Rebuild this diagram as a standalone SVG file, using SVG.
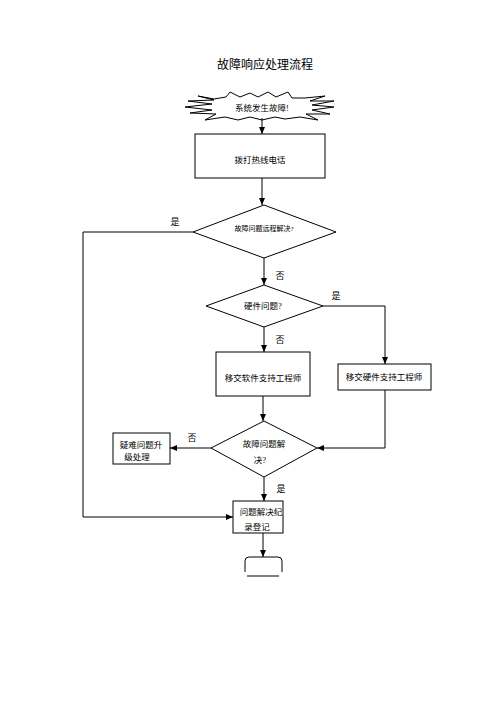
<svg xmlns="http://www.w3.org/2000/svg" width="500" height="707" viewBox="0 0 500 707">
<defs>
<style>
.s{fill:#fff;stroke:#000;stroke-width:1}
.l{fill:none;stroke:#000;stroke-width:1}
text{font-family:"Liberation Serif","Noto Sans CJK SC",serif;fill:#000;text-anchor:middle;dominant-baseline:central}
.t{font-size:8.5px}
.sm{font-size:7px}
.lb{font-size:9px}
</style>
<marker id="a" markerWidth="8" markerHeight="8" refX="7" refY="4" orient="auto" markerUnits="userSpaceOnUse">
<path d="M0,1 L7,4 L0,7 Z" fill="#000"/>
</marker>
</defs>
<rect width="500" height="707" fill="#fff"/>
<text x="265" y="65" style="font-size:12px">故障响应处理流程</text>

<g id="start">
<polygon class="s" points="214,99 226,97 230,92 240,97 250,93 258,97 268,92 276,97 288,92 292,98 305,98 325,96 310,101 334,101 312,105 334,107 312,110 330,114 306,114 318,120 300,117 285,119 275,117 262,120 250,117 238,120 225,117 205,120 216,114 190,113 212,110 185,107 212,104 188,101 214,100 198,96"/>
<text class="t" x="262" y="108">系统发生故障!</text>
</g>

<g id="call">
<rect class="s" x="195" y="134" width="130" height="44"/>
<text class="t" x="260" y="160">拨打热线电话</text>
</g>

<g id="remote">
<polygon class="s" points="264,205 336,232 264,258 193,232"/>
<text class="sm" x="264" y="229">故障问题远程解决?</text>
</g>

<g id="hw">
<polygon class="s" points="264,285 323,306 264,327 206,306"/>
<text class="t" x="263" y="306">硬件问题?</text>
</g>

<g id="sw-box">
<rect class="s" x="216" y="352" width="94" height="44"/>
<text class="t" x="263" y="378">移交软件支持工程师</text>
</g>

<g id="hw-box">
<rect class="s" x="338" y="364" width="93" height="26"/>
<text class="t" x="384" y="377">移交硬件支持工程师</text>
</g>

<g id="solved">
<polygon class="s" points="264,421 317,448 264,477 211,448"/>
<text class="t" x="264" y="444">故障问题解</text>
<text class="t" x="260" y="460">决?</text>
</g>

<g id="escalate">
<rect class="s" x="113" y="433" width="57" height="31"/>
<text class="t" x="141" y="445">疑难问题升</text>
<text class="t" x="137" y="457">级处理</text>
</g>

<g id="record">
<rect class="s" x="233" y="501" width="50" height="32"/>
<text class="t" x="261" y="512">问题解决纪</text>
<text class="t" x="257" y="527">录登记</text>
</g>

<g id="end">
<path class="l" d="M245,572 V561 Q245,557 249,557 H278 Q282,557 282,561 V572"/>
<path class="l" d="M247,576 H279"/>
</g>

<g id="connectors">
<path class="l" d="M262,118 V134" marker-end="url(#a)"/>
<path class="l" d="M262,178 V205" marker-end="url(#a)"/>
<path class="l" d="M264,258 V285" marker-end="url(#a)"/>
<path class="l" d="M264,327 V352" marker-end="url(#a)"/>
<path class="l" d="M323,306 H385 V364" marker-end="url(#a)"/>
<path class="l" d="M263,396 V421" marker-end="url(#a)"/>
<path class="l" d="M385,390 V448 H317" marker-end="url(#a)"/>
<path class="l" d="M211,448 H170" marker-end="url(#a)"/>
<path class="l" d="M264,477 V501" marker-end="url(#a)"/>
<path class="l" d="M193,232 H83 V517 H233" marker-end="url(#a)"/>
<path class="l" d="M263,533 V557" marker-end="url(#a)"/>
<text class="lb" x="175" y="222">是</text>
<text class="lb" x="280" y="276">否</text>
<text class="lb" x="336" y="296">是</text>
<text class="lb" x="280" y="340">否</text>
<text class="lb" x="192" y="438">否</text>
<text class="lb" x="281" y="489">是</text>
</g>
</svg>
